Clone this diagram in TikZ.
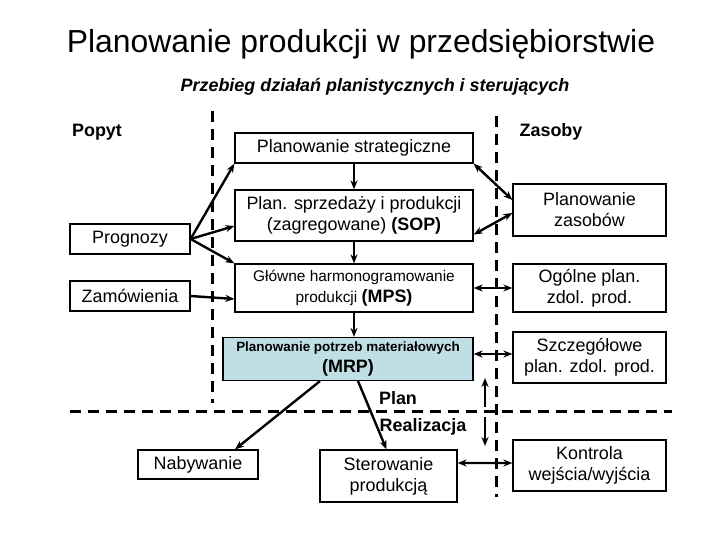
\documentclass[tikz,border=0pt]{standalone}
\usepackage{fontspec}
\setmainfont{Liberation Sans}
\usetikzlibrary{arrows.meta}
\definecolor{mrpfill}{HTML}{BFDFE4}
\newcommand{\fsz}[2]{\fontsize{#1}{#2}\selectfont}
\tikzset{
  box/.style={draw=black, line width=1.2bp, fill=white, align=center,
              inner sep=2bp, font=\fsz{18}{21}},
  lbl/.style={font=\fsz{18}{20}\bfseries},
  flow/.style={-{Stealth[length=9bp, width=7bp]}, line width=2.4bp},
  biflow/.style={{Stealth[length=9bp, width=7bp]}-{Stealth[length=9bp, width=7bp]}, line width=2.4bp},
  sep/.style={line width=3bp, dash pattern=on 11bp off 7bp},
}

\begin{document}
\begin{tikzpicture}[x=1bp, y=-1bp]
  \useasboundingbox (0,0) rectangle (720,540);
  \node[font=\fsz{32}{34}] (title) at (361,44) {Planowanie produkcji w przedsiębiorstwie};
  \node[font=\fsz{18}{20}\bfseries\itshape] (sub) at (375,87) {Przebieg działań planistycznych i sterujących};
  % linie podzialu
  \draw[sep] (212,111) -- (212,403);
  \draw[sep] (496,116) -- (496,497);
  \draw[sep] (70,411) -- (672,411);
  \node[lbl] (popyt) at (97,132) {Popyt};
  \node[lbl] (zasoby) at (551,132) {Zasoby};
  \node[lbl] (plan) at (398,398) {Plan};
  \node[lbl] (real) at (423,427) {Realizacja};
  % srodek
  \node[box, minimum width=238bp, minimum height=30bp] (strat) at (354,148) {Planowanie strategiczne};
  \node[box, minimum width=238bp, minimum height=51bp] (sop) at (354,215.5) {Plan. sprzedaży i produkcji\\(zagregowane) \textbf{(SOP)}};
  \node[box, minimum width=238bp, minimum height=48bp, font=\fsz{15.5}{21}] (mps) at (354,288) {Główne harmonogramowanie\\produkcji {\fsz{18}{21}\bfseries(MPS)}};
  \node[box, fill=mrpfill, minimum width=250bp, minimum height=43bp, font=\fsz{13.5}{22}\bfseries] (mrp) at (348,359) {Planowanie potrzeb materiałowych\\{\fsz{18}{21}(MRP)}};
  % lewa strona
  \node[box, minimum width=120bp, minimum height=30bp] (prog) at (130,239) {Prognozy};
  \node[box, minimum width=120bp, minimum height=30bp] (zam) at (130,296) {Zamówienia};
  % prawa strona
  \node[box, minimum width=153bp, minimum height=52bp] (pz) at (589.5,210) {Planowanie\\zasobów};
  \node[box, minimum width=153bp, minimum height=48bp] (ogol) at (589.5,288) {Ogólne plan.\\zdol. prod.};
  \node[box, minimum width=153bp, minimum height=51bp] (szcz) at (589.5,357.5) {Szczegółowe\\plan. zdol. prod.};
  \node[box, minimum width=153bp, minimum height=51bp] (kontr) at (589.5,465.5) {Kontrola\\wejścia/wyjścia};
  % dol
  \node[box, minimum width=120bp, minimum height=29bp] (nab) at (198,464.5) {Nabywanie};
  \node[box, minimum width=137bp, minimum height=52bp] (ster) at (388.5,476) {Sterowanie\\produkcją};
  % strzalki
  \draw[flow] (prog.east) -- (strat.south west);
  \draw[flow] (prog.east) -- ([yshift=-10.5bp]sop.west);
  \draw[flow] (prog.east) -- (mps.north west);
  \draw[flow] (zam.east) -- ([yshift=-11bp]mps.west);
  \draw[flow] (strat.south) -- (sop.north);
  \draw[flow] (sop.south) -- (mps.north);
  \draw[flow] (mps.south) -- (mps.south |- mrp.north);
  \draw[biflow] (strat.south east) -- ([yshift=10bp]pz.west);
  \draw[biflow] ([yshift=7bp]sop.south east) -- ([yshift=-3bp]pz.west);
  \draw[biflow] (mps.east) -- (ogol.west);
  \draw[biflow] ([yshift=5bp]mrp.east) -- ([yshift=3.5bp]szcz.west);
  \draw[biflow] ([yshift=13bp]ster.east) -- ([yshift=2.5bp]kontr.west);
  \draw[flow] ([xshift=-28bp]mrp.south) -- ([xshift=37bp]nab.north);
  \draw[flow] ([xshift=10bp]mrp.south) -- ([xshift=-2bp]ster.north);
  \coordinate (pd) at (485,407);
  \coordinate (pg) at (485,378);
  \coordinate (rg) at (485,417);
  \coordinate (rd) at (485,446);
  \draw[flow] (pd) -- (pg);
  \draw[flow] (rg) -- (rd);
\end{tikzpicture}
\end{document}
